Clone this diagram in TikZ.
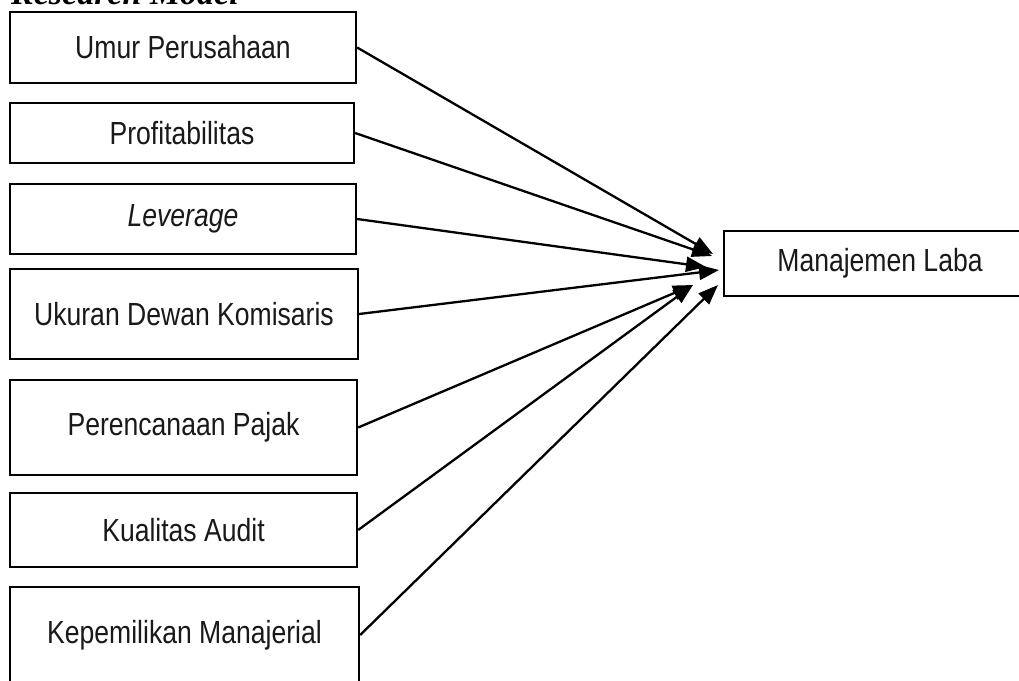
\documentclass[tikz,border=0pt]{standalone}
\usepackage{fontspec}
\setmainfont{Liberation Sans}[FakeStretch=0.83]
\newfontfamily\titlefont{Liberation Serif}
\usetikzlibrary{arrows.meta}
\tikzset{
  varbox/.style={draw=black, line width=2.3pt, fill=white, inner sep=0pt,
    font=\fontsize{32}{38}\selectfont, text=black!90},
  conn/.style={line width=2.3pt, -{Triangle[length=20pt,width=15pt]}},
}
\begin{document}
\begin{tikzpicture}[x=1pt,y=-1pt]
\path[use as bounding box] (0,0) rectangle (1019,680);
\clip (0,0) rectangle (1019,680);
\node[anchor=base west, inner sep=0pt, font=\titlefont\fontsize{34}{40}\selectfont\bfseries\itshape] (title) at (11,5) {Research Model};
\node[varbox, minimum width=346pt, minimum height=71pt] (b1) at (183,47.5) {Umur Perusahaan};
\node[varbox, minimum width=344pt, minimum height=60pt] (b2) at (182,133) {Profitabilitas};
\node[varbox, minimum width=346pt, minimum height=70pt] (b3) at (183,219) {\itshape Leverage};
\node[varbox, minimum width=348pt, minimum height=90pt] (b4) at (184,314) {Ukuran Dewan Komisaris};
\node[varbox, minimum width=347pt, minimum height=95pt] (b5) at (183.5,427.5) {Perencanaan Pajak};
\node[varbox, minimum width=347pt, minimum height=74pt] (b6) at (183.5,530) {Kualitas Audit};
\node[varbox, minimum width=349pt, minimum height=96pt] (b7) at (184.5,635) {Kepemilikan Manajerial};
\node[varbox, minimum width=312pt, minimum height=65pt] (t) at (880,263.5) {Manajemen Laba};
\coordinate (t1) at (713,254);
\coordinate (t2) at (712,256);
\coordinate (t3) at (706,267);
\coordinate (t4) at (719,270);
\coordinate (t5) at (693,285);
\coordinate (t6) at (693,285);
\coordinate (t7) at (718,285);
\draw[conn] (b1.east) -- (t1);
\draw[conn] (b2.east) -- (t2);
\draw[conn] (b3.east) -- (t3);
\draw[conn] (b4.east) -- (t4);
\draw[conn] (b5.east) -- (t5);
\draw[conn] (b6.east) -- (t6);
\draw[conn] (b7.east) -- (t7);
\end{tikzpicture}
\end{document}
